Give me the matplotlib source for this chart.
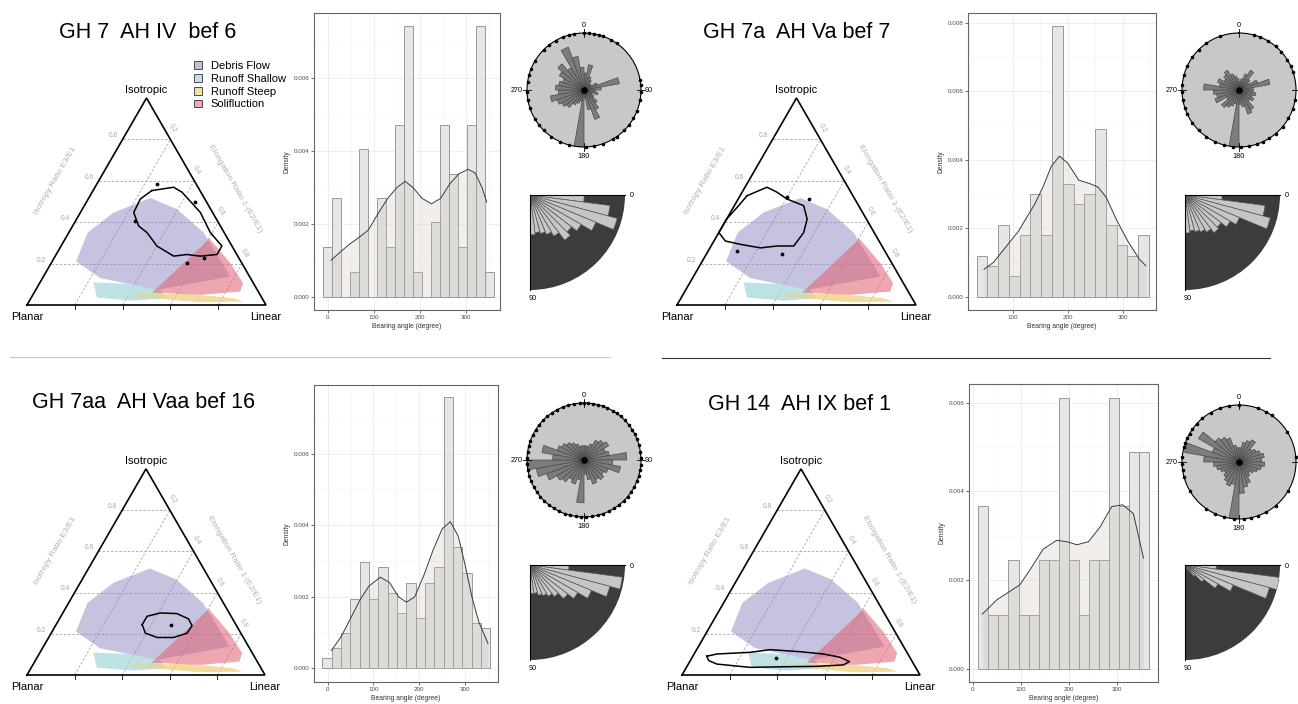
import numpy as np
import matplotlib
matplotlib.use("Agg")
import matplotlib.pyplot as plt
from matplotlib.patches import Polygon, Patch
from matplotlib.lines import Line2D

plt.rcParams['font.family'] = ['Liberation Sans', 'DejaVu Sans']

FW, FH = 1298, 704

# ---------------------------------------------------------------- data
titles = ["GH 7  AH IV  bef 6", "GH 7a  AH Va bef 7",
          "GH 7aa  AH Vaa bef 16", "GH 14  AH IX bef 1"]

region_names = ["Debris Flow", "Runoff Shallow", "Runoff Steep", "Solifluction"]

# fabric shape envelopes: isotropy E3/E1 and elongation 1-(E2/E1)
debris_I = [0.211, 0.350, 0.447, 0.517, 0.463, 0.350, 0.138, 0.073, 0.130]
debris_E = [0.100, 0.079, 0.139, 0.258, 0.396, 0.564, 0.782, 0.507, 0.242]
shallow_I = [0.109, 0.102, 0.073, 0.033, 0.021, 0.036]
shallow_E = [0.224, 0.367, 0.521, 0.569, 0.436, 0.275]
steep_I = [0.050, 0.054, 0.033, 0.016, 0.013, 0.041]
steep_E = [0.407, 0.642, 0.848, 0.896, 0.719, 0.426]
solif_I = [0.060, 0.187, 0.320, 0.203, 0.106, 0.065, 0.049]
solif_E = [0.493, 0.548, 0.604, 0.749, 0.851, 0.860, 0.701]

# density contour of each sample (I, E)
tl_cont_I = [0.553, 0.569, 0.545, 0.447, 0.350, 0.285, 0.244, 0.236, 0.244, 0.236,
             0.285, 0.350, 0.382, 0.447, 0.512]
tl_cont_E = [0.246, 0.329, 0.376, 0.502, 0.592, 0.673, 0.673, 0.607, 0.547, 0.496,
             0.401, 0.327, 0.276, 0.223, 0.218]
tl_pts_I = [0.496, 0.407, 0.203, 0.585, 0.228]
tl_pts_E = [0.454, 0.250, 0.568, 0.252, 0.625]

tr_cont_I = [0.528, 0.569, 0.545, 0.512, 0.480, 0.415, 0.350, 0.285, 0.285, 0.276,
             0.293, 0.309, 0.350, 0.415, 0.480]
tr_cont_E = [0.029, 0.092, 0.146, 0.204, 0.290, 0.337, 0.355, 0.346, 0.276, 0.211,
             0.119, 0.048, 0.000, 0.000, 0.018]
tr_pts_I = [0.260, 0.244, 0.512, 0.520]
tr_pts_E = [0.121, 0.317, 0.295, 0.200]

bl_cont_I = [0.244, 0.285, 0.301, 0.298, 0.272, 0.239, 0.203, 0.182, 0.182, 0.203]
bl_cont_E = [0.362, 0.362, 0.410, 0.481, 0.543, 0.574, 0.571, 0.525, 0.456, 0.396]
bl_pts_I = [0.244]
bl_pts_E = [0.481]

br_cont_I = [0.091, 0.102, 0.110, 0.123, 0.113, 0.102, 0.086, 0.065, 0.049, 0.042,
             0.040, 0.037, 0.053, 0.070]
br_cont_E = [0.059, 0.096, 0.232, 0.309, 0.440, 0.543, 0.621, 0.671, 0.654, 0.545,
             0.407, 0.268, 0.120, 0.077]
br_pts_I = [0.081]
br_pts_E = [0.355]

# bearing histograms (bin centres, density) and kernel density curves
tl_bins = [0, 19.5, 39, 58.5, 78, 97.5, 117, 136.5, 156, 175.5, 195, 214.5, 234,
           253.5, 273, 292.5, 312, 331.5, 351]
tl_dens = [0.00135, 0.0027, 0, 0.00068, 0.00405, 0, 0.0027, 0.00136, 0.00472, 0.00745,
           0.00068, 0, 0.00204, 0.00472, 0.00338, 0.00136, 0.00472, 0.00745, 0.00068]
tl_kde_x = [7, 25, 45, 65, 88, 110, 130, 150, 168, 185, 205, 225, 245, 265, 285, 305,
            320, 335, 345]
tl_kde_y = [0.0010, 0.0012, 0.00142, 0.0016, 0.00183, 0.0023, 0.0027, 0.0030, 0.00317,
            0.0030, 0.0027, 0.00255, 0.0027, 0.0031, 0.00338, 0.0035, 0.0034, 0.0030,
            0.0026]

tr_bins = [44, 63.6, 83.2, 102.8, 122.4, 142, 161.6, 181.2, 200.8, 220.4, 240, 259.6,
           279.2, 298.8, 318.4, 338]
tr_dens = [0.0012, 0.0009, 0.0021, 0.0006, 0.0018, 0.0030, 0.0018, 0.0079, 0.0033,
           0.0027, 0.0030, 0.0049, 0.0021, 0.0015, 0.0012, 0.0018]
tr_kde_x = [48, 65, 80, 95, 110, 125, 140, 155, 170, 185, 200, 220, 240, 255, 270, 290,
            310, 330, 342]
tr_kde_y = [0.0008, 0.0010, 0.0013, 0.0016, 0.0019, 0.0023, 0.0027, 0.0032, 0.0038,
            0.0041, 0.0039, 0.0034, 0.0033, 0.0032, 0.0029, 0.0022, 0.0016, 0.0011,
            0.0009]

bl_bins = [-1.4, 19, 39.4, 59.8, 80.2, 100.6, 121, 141.4, 161.8, 182.2, 202.6, 223,
           243.4, 263.8, 284.2, 304.6, 325, 345.4]
bl_dens = [0.0003, 0.00058, 0.00098, 0.00195, 0.00296, 0.00195, 0.00282, 0.0021,
           0.00156, 0.0024, 0.0014, 0.0024, 0.00282, 0.00758, 0.00338, 0.00266,
           0.00128, 0.00112]
bl_kde_x = [8, 30, 50, 70, 90, 115, 135, 155, 172, 190, 210, 230, 250, 268, 285, 300,
            315, 330, 350]
bl_kde_y = [0.0005, 0.0009, 0.0014, 0.0019, 0.0023, 0.00255, 0.0024, 0.0020, 0.00185,
            0.0020, 0.0026, 0.0033, 0.0039, 0.0041, 0.0037, 0.0029, 0.0020, 0.0013,
            0.0007]

br_bins = [22, 42.9, 63.7, 84.6, 105.4, 126.3, 147.1, 168, 188.8, 209.7, 230.5, 251.4,
           272.2, 293.1, 313.9, 334.8, 355.6]
br_dens = [0.00367, 0.00121, 0.00121, 0.00246, 0.00121, 0.00121, 0.00246, 0.00246,
           0.0061, 0.00246, 0.00121, 0.00246, 0.00246, 0.0061, 0.00367, 0.0049, 0.0049]
br_kde_x = [20, 50, 77, 98, 119, 146, 174, 195, 216, 240, 264, 288, 311, 333, 354]
br_kde_y = [0.00124, 0.00156, 0.00175, 0.0019, 0.00224, 0.0027, 0.0029, 0.00287, 0.0028,
            0.00287, 0.0032, 0.00366, 0.0037, 0.0035, 0.0025]

# rose diagrams of bearing, 10 degree sectors, relative radius
rose_bins = np.arange(5, 360, 10)
tl_rose = [0.3, 0.45, 0.25, 0.2, 0.15, 0.15, 0.25, 0.63, 0.3, 0.2, 0.25, 0.15, 0.2, 0.3,
           0.4, 0.55, 0.35, 0.15, 1.0, 0.2, 0.25, 0.3, 0.4, 0.45, 0.5, 0.6, 0.45, 0.5,
           0.45, 0.4, 0.5, 0.6, 0.45, 0.8, 0.6, 0.4]
tr_rose = [0.15, 0.2, 0.3, 0.4, 0.25, 0.2, 0.35, 0.55, 0.25, 0.25, 0.3, 0.25, 0.3, 0.25,
           0.4, 0.45, 0.3, 0.25, 1.0, 0.25, 0.3, 0.35, 0.4, 0.25, 0.45, 0.4, 0.45, 0.62,
           0.35, 0.4, 0.3, 0.35, 0.4, 0.3, 0.25, 0.2]
bl_rose = [0.25, 0.25, 0.3, 0.4, 0.45, 0.5, 0.4, 0.45, 0.75, 0.5, 0.65, 0.45, 0.4, 0.45,
           0.4, 0.45, 0.35, 0.25, 0.75, 0.35, 0.45, 0.4, 0.5, 0.55, 0.7, 0.85, 1.0, 0.55,
           0.75, 0.5, 0.45, 0.4, 0.35, 0.3, 0.25, 0.25]
br_rose = [0.25, 0.35, 0.4, 0.45, 0.3, 0.35, 0.4, 0.45, 0.4, 0.45, 0.4, 0.35, 0.3, 0.25,
           0.3, 0.4, 0.45, 0.55, 1.0, 0.4, 0.45, 0.4, 0.35, 0.3, 0.35, 0.4, 0.45, 0.62,
           0.97, 0.5, 0.82, 0.55, 0.5, 0.45, 0.3, 0.25]

# individual bearings marked on the circle
tl_dots = [0, 5, 10, 15, 20, 28, 35, 345, 350, 338, 330, 322, 315, 300, 292, 285, 278,
           268, 260, 252, 240, 232, 225, 215, 80, 85, 92, 100, 112, 120, 128, 135, 145,
           150, 160, 170, 178, 195, 205]
tr_dots = [15, 22, 30, 40, 48, 58, 65, 72, 100, 110, 120, 130, 140, 148, 155, 162, 170,
           178, 186, 195, 205, 215, 225, 235, 245, 252, 260, 268, 275, 285, 295, 305,
           315, 325, 340]
bl_dots = [0, 4, 9, 14, 19, 24, 30, 35, 40, 46, 52, 58, 63, 68, 75, 82, 88, 95, 100, 106,
           112, 118, 124, 130, 136, 142, 148, 154, 160, 166, 172, 178, 183, 188, 194,
           200, 206, 212, 218, 224, 230, 236, 242, 248, 254, 260, 266, 272, 278, 284,
           290, 296, 302, 308, 314, 320, 326, 332, 338, 344, 350, 356]
br_dots = [0, 20, 28, 35, 58, 85, 120, 140, 152, 160, 168, 175, 185, 195, 205, 215, 240,
           255, 262, 268, 275, 285, 290, 295, 300, 305, 312, 320, 330, 340, 350]

# plunge quarter roses, 7.5 degree sectors, relative radius
dip_bins = np.arange(3.75, 90, 7.5)
tl_dip = [0.57, 0.85, 0.95, 0.75, 0.62, 0.55, 0.60, 0.50, 0.45, 0.42, 0.40, 0.42]
tr_dip = [0.39, 0.85, 0.93, 0.62, 0.55, 0.48, 0.50, 0.45, 0.42, 0.40, 0.38, 0.40]
bl_dip = [0.41, 0.98, 0.87, 0.70, 0.58, 0.50, 0.42, 0.38, 0.35, 0.33, 0.30, 0.30]
br_dip = [0.33, 1.0, 0.92, 0.55, 0.40, 0.25, 0.15, 0.08, 0.05, 0.03, 0.02, 0.02]

region_colors = ['#8c88c0', '#a8d8dc', '#f0d080', '#e06070']
region_alpha = [0.5, 0.75, 0.75, 0.55]
legend_colors = ['#c3c0df', '#c0e2e5', '#f3e0a6', '#f1abb0']

H3 = np.sqrt(3) / 2


def px(x, y, w, h):
    return [x / FW, 1 - (y + h) / FH, w / FW, h / FH]


def to_xy(I, E):
    I = np.asarray(I)
    E = np.asarray(E)
    return E + 0.5 * I, H3 * I


def ternary(fig, x0, y0, w, cont_I, cont_E, pts_I, pts_E):
    ax = fig.add_axes(px(x0 - 0.1 * w, y0 - w, 1.2 * w, 1.15 * w))
    ax.set_xlim(-0.1, 1.1)
    ax.set_ylim(-0.15, 1.0)
    ax.axis('off')
    grey = '#a6a6a6'
    for h in [0.2, 0.4, 0.6, 0.8]:
        ax.plot([0.5 * h, 1 - 0.5 * h], [H3 * h, H3 * h], color=grey, lw=0.6,
                ls=(0, (3, 2)), zorder=1)
        ax.text(0.5 * h - 0.04, H3 * h + 0.015, f"{h:.1f}", color=grey, fontsize=4.8,
                ha='center', va='center')
        ax.plot([h, h + 0.5 * (1 - h)], [0, H3 * (1 - h)], color=grey, lw=0.6,
                ls=(0, (3, 2)), zorder=1)
        ex, ey = 1 - 0.5 * (1 - h), H3 * (1 - h)
        ax.text(ex + 0.01, ey + 0.045, f"{h:.1f}", color=grey, fontsize=4.8,
                ha='center', va='center', rotation=-60)
        ax.plot([h, h], [0, -0.018], color='k', lw=0.6)
    sets = [(debris_I, debris_E), (shallow_I, shallow_E), (steep_I, steep_E),
            (solif_I, solif_E)]
    for (I, E), c, a in zip(sets, region_colors, region_alpha):
        xs, ys = to_xy(I, E)
        ax.add_patch(Polygon(np.column_stack([xs, ys]), closed=True, fc=c, ec='none',
                             alpha=a, zorder=2))
    xs, ys = to_xy(cont_I + cont_I[:1], cont_E + cont_E[:1])
    ax.plot(xs, ys, color='k', lw=1.1, zorder=4)
    xs, ys = to_xy(pts_I, pts_E)
    ax.scatter(xs, ys, s=3, c='k', zorder=4)
    ax.plot([0, 1, 0.5, 0], [0, 0, H3, 0], color='k', lw=1.2, zorder=5,
            solid_joinstyle='miter')
    ax.text(0.5, H3 + 0.035, 'Isotropic', fontsize=8, ha='center', va='center')
    ax.text(0.0, -0.05, 'Planar', fontsize=8, ha='center', va='center')
    ax.text(1.0, -0.05, 'Linear', fontsize=8, ha='center', va='center')
    ax.text(0.119, 0.521, 'Isotropy Ratio E3/E1', color='#b0b0b0', fontsize=6,
            rotation=60, ha='center', va='center')
    ax.text(0.872, 0.486, 'Elongation Ratio 1-(E2/E1)', color='#b0b0b0', fontsize=6,
            rotation=-60, ha='center', va='center')
    return ax


def histogram(fig, rect, bins, dens, width, kx, ky, xlim, ylim, xticks):
    ax = fig.add_axes(px(*rect))
    ax.bar(bins, dens, width=width, color='#e6e6e6', edgecolor='#8c8c8c', lw=0.6,
           zorder=2)
    ax.fill_between(kx, ky, color='#c8bfb0', alpha=0.25, lw=0, zorder=3)
    ax.plot(kx, ky, color='#3a3a3a', lw=0.7, zorder=4)
    ax.set_xlim(*xlim)
    ax.set_ylim(*ylim)
    ax.set_xticks(xticks)
    ax.set_xticks([t + 50 for t in [-100] + xticks if xlim[0] < t + 50 < xlim[1]],
                  minor=True)
    ax.set_yticks([0, 0.002, 0.004, 0.006, 0.008][:int(ylim[1] / 0.002) + 1])
    ax.set_yticks([0.001, 0.003, 0.005, 0.007][:int((ylim[1] + 0.001) / 0.002)],
                  minor=True)
    ax.yaxis.set_major_formatter(matplotlib.ticker.FormatStrFormatter('%.3f'))
    ax.set_axisbelow(True)
    ax.grid(which='major', color='#ebebeb', lw=0.6)
    ax.grid(which='minor', color='#f4f4f4', lw=0.4)
    ax.tick_params(which='major', length=2, width=0.5, color='#333333',
                   labelsize=4.5, labelcolor='#4d4d4d', pad=1.5)
    ax.tick_params(which='minor', length=0)
    for s in ax.spines.values():
        s.set_color('#666666')
        s.set_linewidth(0.8)
    ax.set_xlabel('Bearing angle (degree)', fontsize=4.9, color='#333333', labelpad=2)
    ax.set_ylabel('Density', fontsize=4.9, color='#333333', labelpad=2)
    return ax


def rose(fig, cx, cy, r, radii, dots, east_label=True):
    ax = fig.add_axes(px(cx - r, cy - r, 2 * r, 2 * r), projection='polar')
    ax.set_theta_zero_location('N')
    ax.set_theta_direction(-1)
    ax.set_facecolor('#c8c8c8')
    ax.bar(np.deg2rad(rose_bins), radii, width=np.deg2rad(10), bottom=0,
           color='#7c7c7c', edgecolor='#4a4a4a', lw=0.5, zorder=2)
    ax.set_ylim(0, 1)
    ax.set_xticks([])
    ax.set_yticks([])
    ax.grid(False)
    ax.spines['polar'].set_color('k')
    ax.spines['polar'].set_linewidth(0.8)
    ax.scatter(np.deg2rad(dots), np.ones(len(dots)), s=2.5, c='k', clip_on=False,
               zorder=5)
    ax.scatter([0], [0], s=14, c='k', zorder=5)
    labels = [(0, '0', 1.13, 'center'), (180, '180', 1.16, 'center'),
              (270, '270', 1.07, 'right')]
    if east_label:
        labels.append((90, '90', 1.07, 'left'))
    for a in [0, 90, 180, 270]:
        t = np.deg2rad(a)
        ax.plot([t, t], [0.93, 1.07], color='k', lw=0.6, clip_on=False, zorder=5)
    for a, lab, off, ha in labels:
        ax.text(np.deg2rad(a), off, lab, fontsize=5.2, ha=ha, va='center',
                clip_on=False)
    return ax


def quarter(fig, x0, y0, r, radii):
    ax = fig.add_axes(px(x0, y0, r, r), projection='polar')
    ax.set_theta_zero_location('E')
    ax.set_theta_direction(-1)
    ax.set_thetamin(0)
    ax.set_thetamax(90)
    ax.set_facecolor('#3c3c3c')
    ax.bar(np.deg2rad(dip_bins), radii, width=np.deg2rad(7.5), bottom=0,
           color='#c6c6c6', edgecolor='#5a5a5a', lw=0.5, zorder=2)
    ax.set_ylim(0, 1)
    ax.set_xticks([])
    ax.set_yticks([])
    ax.grid(False)
    for s in ax.spines.values():
        s.set_visible(False)
    fig.text((x0 + r + 5) / FW, 1 - (y0 + 1) / FH, '0', fontsize=5.2, ha='left',
             va='center')
    fig.text((x0 + 3) / FW, 1 - (y0 + r + 8) / FH, '90', fontsize=5.2, ha='center',
             va='center')
    return ax


fig = plt.figure(figsize=(FW / 100, FH / 100), dpi=100)

# ------------------------------------------------------------ panels
ternary(fig, 27, 305, 239, tl_cont_I, tl_cont_E, tl_pts_I, tl_pts_E)
ternary(fig, 677, 305, 239, tr_cont_I, tr_cont_E, tr_pts_I, tr_pts_E)
ternary(fig, 27, 675, 238, bl_cont_I, bl_cont_E, bl_pts_I, bl_pts_E)
ternary(fig, 682, 675, 238, br_cont_I, br_cont_E, br_pts_I, br_pts_E)

histogram(fig, (314, 13, 186, 297), tl_bins, tl_dens, 19.5, tl_kde_x, tl_kde_y,
          (-30, 374), (-0.00037, 0.0078), [0, 100, 200, 300])
histogram(fig, (968, 13, 188, 297), tr_bins, tr_dens, 19.6, tr_kde_x, tr_kde_y,
          (18.7, 360.5), (-0.00039, 0.00828), [100, 200, 300])
histogram(fig, (314, 385, 184, 297), bl_bins, bl_dens, 20.4, bl_kde_x, bl_kde_y,
          (-29.9, 372), (-0.00038, 0.00792), [0, 100, 200, 300])
histogram(fig, (969, 384, 189, 298), br_bins, br_dens, 20.85, br_kde_x, br_kde_y,
          (-7.6, 384), (-0.00029, 0.00642), [0, 100, 200, 300])

rose(fig, 584, 90, 57, tl_rose, tl_dots)
rose(fig, 1239, 90, 57, tr_rose, tr_dots, east_label=False)
rose(fig, 584, 460, 57, bl_rose, bl_dots)
rose(fig, 1239, 462, 57, br_rose, br_dots, east_label=False)

quarter(fig, 530, 195, 95, tl_dip)
quarter(fig, 1185, 195, 95, tr_dip)
quarter(fig, 530, 565, 95, bl_dip)
quarter(fig, 1185, 565, 95, br_dip)

for t, (x, y) in zip(titles, [(148, 32), (797, 32), (144, 403), (799, 405)]):
    fig.text(x / FW, 1 - y / FH, t, fontsize=15.5, ha='center', va='center')

handles = [Patch(facecolor=c, edgecolor='#333333', lw=0.6) for c in legend_colors]
fig.legend(handles, region_names, loc='upper left',
           bbox_to_anchor=(194 / FW, 1 - 61 / FH), frameon=False, fontsize=8,
           handlelength=0.7, handleheight=0.7, handletextpad=0.8, labelspacing=0.25,
           borderpad=0, borderaxespad=0)

fig.add_artist(Line2D([10 / FW, 610 / FW], [1 - 357 / FH, 1 - 357 / FH],
                      color='#c8c8c8', lw=0.8))
fig.add_artist(Line2D([662 / FW, 1270 / FW], [1 - 358 / FH, 1 - 358 / FH],
                      color='#333333', lw=0.8))

fig.savefig('out.png', dpi=100)
